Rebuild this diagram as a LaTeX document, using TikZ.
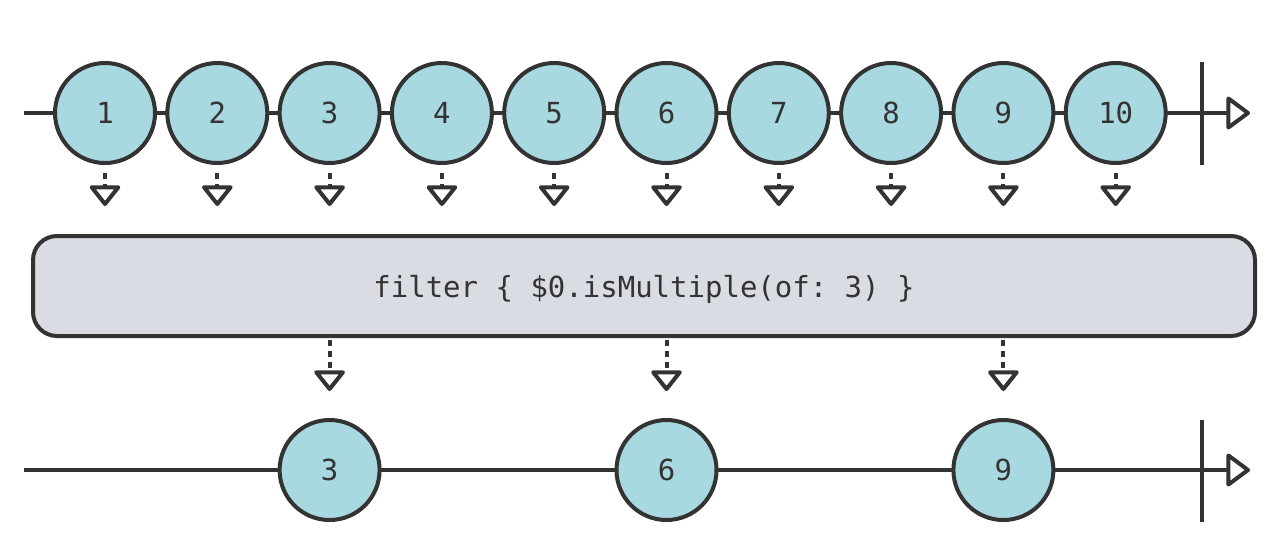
\documentclass[tikz,border=0pt]{standalone}
\usepackage{fontspec}
\setmonofont{DejaVu Sans Mono}
\usetikzlibrary{arrows.meta}

\definecolor{ink}{HTML}{333333}
\definecolor{marblefill}{HTML}{A8D8E0}
\definecolor{boxfill}{HTML}{D9DCE3}

\tikzset{
  codefont/.style={font=\ttfamily\fontsize{29}{31}\selectfont},
  marble/.style={circle, draw=ink, fill=marblefill, line width=4pt,
    minimum size=100pt, inner sep=0pt, text=ink, codefont},
  opbox/.style={rectangle, draw=ink, fill=boxfill, line width=4pt,
    rounded corners=24pt, minimum width=1222pt, minimum height=100pt,
    text=ink, codefont},
  timeline/.style={draw=ink, line width=4pt,
    -{Triangle[open, round, length=25pt, width=36pt]}},
  stopbar/.style={draw=ink, line width=4pt},
  feed/.style={draw=ink, line width=4pt, dash pattern=on 6pt off 5pt,
    -{Triangle[open, round, length=22pt, width=34pt]}}
}

\begin{document}
\begin{tikzpicture}[x=1pt,y=-1pt]
\useasboundingbox (0,0) rectangle (1280,558);

    % source stream on top
    \coordinate (inL) at (24,113);
    \coordinate (inR) at (1250,113);
    \draw[timeline] (inL) -- (inR);
    \coordinate (inBarT) at (1202,62);
    \coordinate (inBarB) at (1202,165);
    \draw[stopbar] (inBarT) -- (inBarB);
    \foreach \n in {1,...,10}
        \node[marble] (in\n) at ({105+112.3*(\n-1)},113) {\n};

    % operator
    \node[opbox] (box) at (644,286) {\raisebox{-3pt}[\height][\depth]{filter \{ \$0.isMultiple(of: 3) \}}};

    \foreach \n in {1,...,10}
        \draw[feed, shorten <=8pt, shorten >=28pt] (in\n) -- (in\n |- box.north);

    % result stream
    \coordinate (outL) at (24,470);
    \coordinate (outR) at (1250,470);
    \draw[timeline] (outL) -- (outR);
    \coordinate (outBarT) at (1202,420);
    \coordinate (outBarB) at (1202,522);
    \draw[stopbar] (outBarT) -- (outBarB);
    \foreach \n in {3,6,9}
        \node[marble] (out\n) at (in\n |- outL) {\n};

    \foreach \n in {3,6,9}
        \draw[feed, shorten <=2pt, shorten >=27pt] (box.south -| out\n) -- (out\n);

\end{tikzpicture}
\end{document}
